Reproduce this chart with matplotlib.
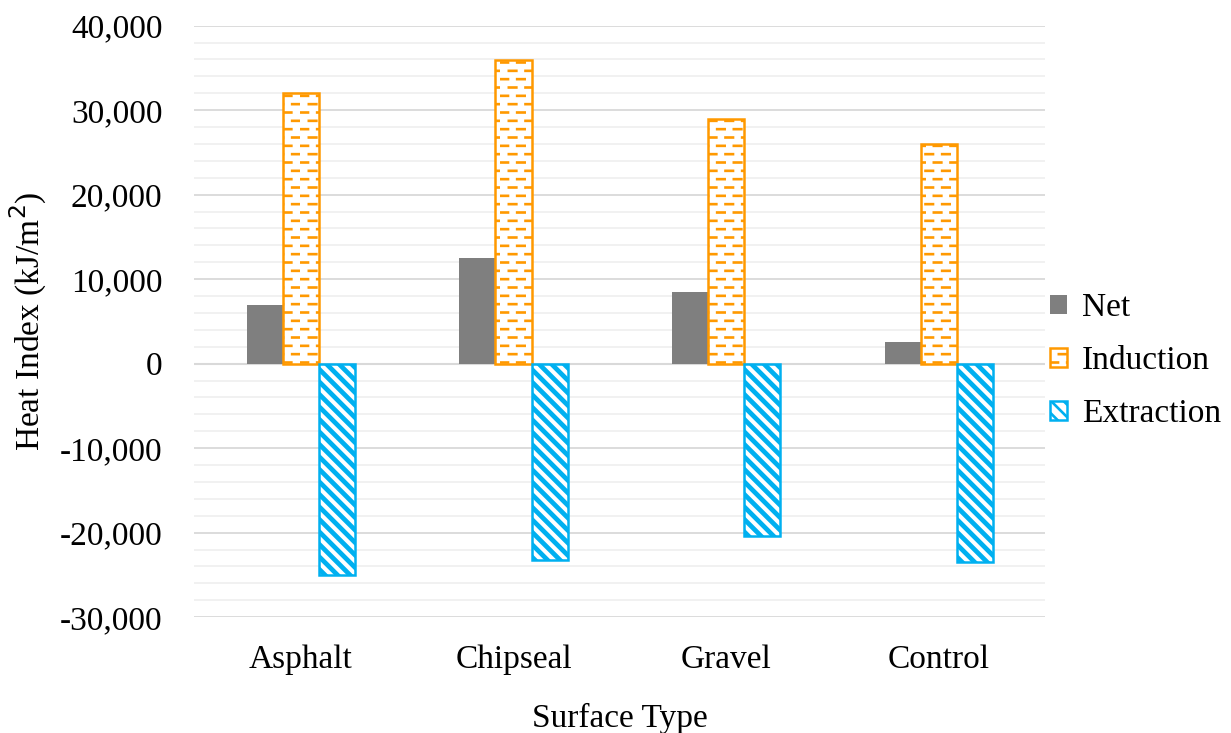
import matplotlib.pyplot as plt
import matplotlib.hatch as mhatch
import numpy as np
from matplotlib.path import Path
from matplotlib.ticker import FuncFormatter, MultipleLocator

plt.rcParams['font.family'] = ['Liberation Serif', 'DejaVu Serif']
plt.rcParams['hatch.linewidth'] = 1.9


# staggered short dashes for '-' (Excel "dashed horizontal" look)
class DashRows(mhatch.HatchPatternBase):
    def __init__(self, hatch, density):
        self.rows = hatch.count('-') * density
        self.per_row = self.rows // 2
        self.num_vertices = self.rows * self.per_row * 2

    def set_vertices_and_codes(self, vertices, codes):
        k = 0
        for r in range(self.rows):
            y = (r + 0.5) / self.rows
            off = 0.5 if r % 2 else 0.0
            for d in range(self.per_row):
                x0 = (d + off + 0.03) / self.per_row
                vertices[k] = (x0, y)
                vertices[k + 1] = (x0 + 0.45 / self.per_row, y)
                codes[k] = Path.MOVETO
                codes[k + 1] = Path.LINETO
                k += 2


# denser back-diagonal stripes for '\' (even count so the tile repeats cleanly)
class BackDiag(mhatch.HatchPatternBase):
    def __init__(self, hatch, density):
        n = int(round(hatch.count('\\') * density * 2.5))
        self.num_lines = n + (n % 2)
        self.num_vertices = (self.num_lines + 1) * 2 if self.num_lines else 0

    def set_vertices_and_codes(self, vertices, codes):
        steps = np.linspace(-0.5, 0.5, self.num_lines + 1)
        vertices[0::2, 0] = 0.0 + steps
        vertices[0::2, 1] = 1.0 + steps
        vertices[1::2, 0] = 1.0 + steps
        vertices[1::2, 1] = 0.0 + steps
        codes[0::2] = Path.MOVETO
        codes[1::2] = Path.LINETO


mhatch._hatch_types[0] = DashRows
mhatch._hatch_types[3] = BackDiag

surfaces = ["Asphalt", "Chipseal", "Gravel", "Control"]
net = [7000, 12500, 8500, 2600]
induction = [32000, 35900, 29000, 26000]
extraction = [-25000, -23200, -20400, -23500]

fig = plt.figure(figsize=(12.31, 7.33), dpi=100)
ax = fig.add_axes([0.158, 0.158, 0.691, 0.807])

x = np.arange(len(surfaces))
w = 0.17
ax.bar(x - w, net, w, color="#7f7f7f", label="Net", zorder=3)
ind = ax.bar(x, induction, w, color="white", edgecolor="#ff9900", hatch="--",
             linewidth=1.8, label="Induction", zorder=3)
ext = ax.bar(x + w, extraction, w, color="white", edgecolor="#00b0f0", hatch="\\",
             linewidth=1.8, label="Extraction", zorder=3)
for p in ext:
    if hasattr(p, "set_hatch_linewidth"):
        p.set_hatch_linewidth(3.4)

ax.set_xlim(-0.5, 3.5)
ax.set_ylim(-30000, 40000)
ax.yaxis.set_major_locator(MultipleLocator(10000))
ax.yaxis.set_minor_locator(MultipleLocator(2000))
ax.yaxis.set_major_formatter(FuncFormatter(lambda v, p: f"{v:,.0f}"))
ax.grid(axis="y", which="major", color="#d9d9d9", linewidth=1.3, zorder=0)
ax.grid(axis="y", which="minor", color="#f0f0f0", linewidth=1.3, zorder=0)
ax.axhline(0, color="#d9d9d9", linewidth=1.5, zorder=2)
for s in ax.spines.values():
    s.set_visible(False)
ax.tick_params(axis="both", which="both", length=0, labelsize=24)
ax.tick_params(axis="x", pad=20)
ax.tick_params(axis="y", pad=23)
ax.set_xticks(x, surfaces)

ax.set_xlabel("Surface Type", fontsize=24, labelpad=20)
ax.set_ylabel("Heat Index (kJ/m$^2$)", fontsize=24, labelpad=8)

ax.legend(loc="center left", bbox_to_anchor=(1.006, 0.433), frameon=False,
          fontsize=24, handlelength=0.5, handleheight=0.5, handletextpad=0.45,
          labelspacing=0.67, borderaxespad=0, borderpad=0)

fig.savefig("out.png")
